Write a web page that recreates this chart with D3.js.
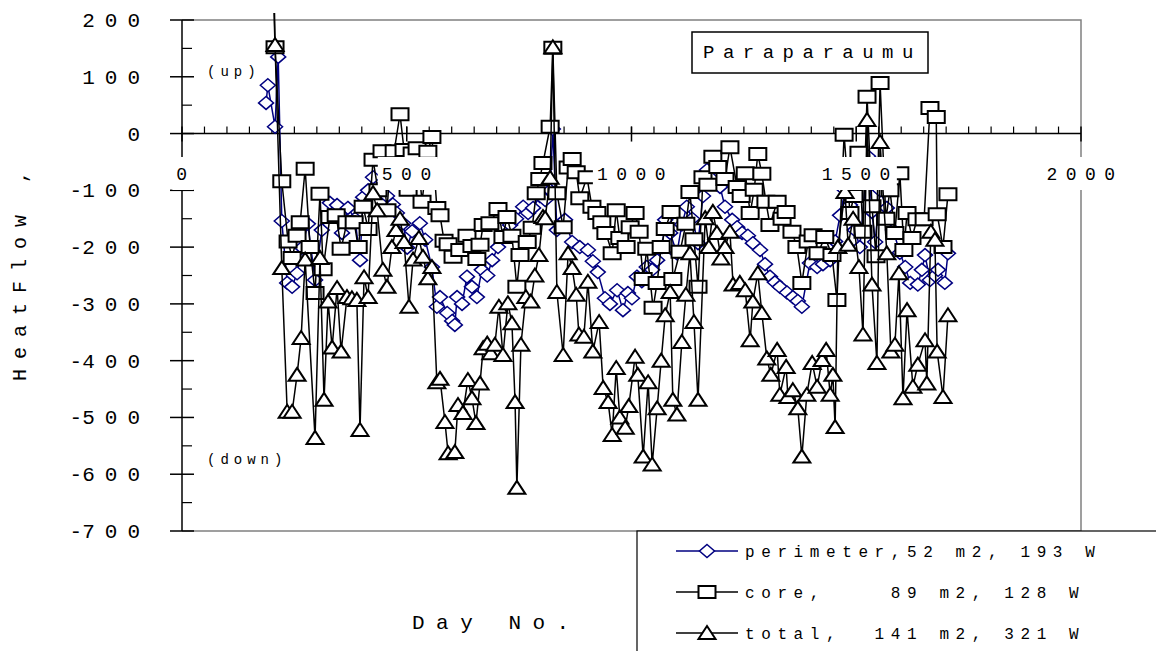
<!DOCTYPE html>
<html>
<head>
<meta charset="utf-8">
<script src="https://cdn.jsdelivr.net/npm/d3@7"></script>
<style>
body { margin: 0; background: #fff; }
text { font-family: "Liberation Mono", "Courier New", monospace; fill: #000; }
</style>
</head>
<body>
<svg id="chart" width="1156" height="651"></svg>
<script>
'use strict';

// day numbers and heat flow
var perimDay = [187, 191, 207, 214, 222, 234, 245, 256, 267, 280, 296, 311, 329, 345, 356, 369, 385, 396, 403, 414,
   425, 440, 456, 469, 478, 492, 501, 512, 529, 541, 556, 567, 574, 590, 601, 607, 612, 623, 634, 645,
   656, 667, 679, 690, 703, 716, 730, 743, 759, 770, 781, 796, 808, 819, 825, 834, 852, 868, 885, 903,
   914, 925, 941, 952, 968, 981, 992, 1001, 1012, 1023, 1034, 1046, 1057, 1068, 1075, 1086, 1101, 1112, 1123, 1135,
   1148, 1159, 1168, 1179, 1197, 1208, 1224, 1235, 1246, 1259, 1270, 1286, 1297, 1308, 1319, 1330, 1346, 1359, 1370, 1379,
   1397, 1413, 1426, 1442, 1453, 1464, 1475, 1486, 1497, 1508, 1526, 1535, 1542, 1553, 1568, 1582, 1597, 1609, 1620, 1637,
   1646, 1653, 1664, 1675, 1682, 1697, 1704];
var perimW = [54, 85, 12, 135, -154, -263, -270, -246, -201, -159, -258, -170, -122, -126, -175, -131, -150, -223, -112, -100,
   -77, -95, -110, -125, -140, -158, -201, -172, -158, -187, -235, -305, -288, -316, -330, -337, -288, -300, -252, -270,
   -288, -240, -250, -223, -200, -180, -161, -150, -129, -140, -131, -110, -117, -100, 8, -170, -152, -191, -200, -205,
   -225, -244, -290, -300, -276, -311, -281, -290, -252, -260, -235, -240, -223, -200, -152, -175, -211, -160, -129, -150,
   -193, -110, -64, -80, -94, -129, -152, -165, -175, -180, -193, -205, -230, -252, -262, -270, -280, -288, -295, -305,
   -228, -235, -230, -223, -190, -144, -100, -126, -170, -200, -40, -138, -191, -100, -131, -170, -210, -235, -263, -266,
   -240, -214, -258, -250, -240, -263, -211];

var coreDay = [191, 207, 222, 236, 245, 256, 263, 274, 285, 296, 307, 314, 329, 343, 354, 367, 383, 392, 403, 414,
   425, 436, 445, 456, 463, 472, 485, 494, 503, 512, 523, 534, 547, 556, 567, 574, 583, 592, 603, 618,
   634, 645, 656, 663, 670, 685, 703, 714, 723, 734, 745, 752, 768, 779, 788, 796, 803, 819, 825, 834,
   848, 859, 868, 877, 885, 901, 912, 923, 934, 943, 957, 966, 974, 988, 997, 1008, 1017, 1026, 1034, 1048,
   1057, 1066, 1075, 1088, 1092, 1108, 1121, 1130, 1139, 1148, 1159, 1170, 1181, 1192, 1208, 1219, 1235, 1244, 1253, 1264,
   1273, 1281, 1290, 1299, 1308, 1324, 1335, 1344, 1357, 1368, 1379, 1393, 1404, 1415, 1430, 1446, 1457, 1473, 1486, 1495,
   1506, 1515, 1524, 1535, 1544, 1553, 1566, 1575, 1586, 1597, 1606, 1613, 1624, 1635, 1651, 1664, 1678, 1680, 1693, 1704];
var coreW = [600, 152, -84, -190, -219, -180, -156, -62, -200, -281, -106, -239, -147, -144, -203, -156, -156, -200, -129, -168,
   -46, -100, -31, -135, -60, -31, 34, -29, -99, -35, -26, -120, -32, -6, -131, -144, -189, -195, -217, -205,
   -180, -198, -221, -196, -161, -158, -133, -182, -147, -180, -270, -214, -191, -166, -105, -80, -52, 12, 151, -105,
   -165, -60, -45, -68, -114, -77, -129, -140, -156, -175, -211, -135, -184, -200, -165, -140, -173, -256, -203, -307,
   -263, -200, -168, -138, -256, -208, -159, -103, -186, -270, -77, -90, -41, -59, -80, -24, -94, -110, -70, -140,
   -99, -36, -71, -120, -161, -120, -150, -138, -173, -200, -263, -190, -179, -211, -182, -214, -293, -2, -140, -110,
   -34, -173, 65, -128, -216, 89, -150, -100, -175, -70, -205, -140, -184, -151, -151, 45, 29, -142, -200, -107];

var totalDay = [191, 207, 222, 234, 245, 256, 265, 274, 296, 307, 316, 325, 334, 345, 354, 367, 378, 389, 396, 405,
   414, 425, 434, 447, 456, 467, 476, 485, 494, 505, 514, 527, 536, 547, 556, 567, 574, 585, 592, 607,
   614, 625, 636, 645, 654, 663, 670, 679, 687, 696, 705, 714, 725, 734, 741, 745, 754, 765, 776, 785,
   794, 803, 808, 819, 825, 834, 848, 859, 868, 877, 883, 894, 903, 914, 928, 937, 948, 957, 966, 974,
   986, 994, 1008, 1014, 1026, 1037, 1046, 1057, 1066, 1075, 1086, 1092, 1101, 1112, 1121, 1130, 1139, 1148, 1164, 1172,
   1181, 1190, 1199, 1208, 1219, 1226, 1241, 1253, 1264, 1270, 1281, 1290, 1301, 1310, 1324, 1330, 1344, 1348, 1359, 1370,
   1379, 1390, 1402, 1413, 1424, 1433, 1442, 1448, 1453, 1459, 1475, 1482, 1493, 1506, 1515, 1524, 1535, 1546, 1553, 1568,
   1577, 1586, 1595, 1604, 1613, 1626, 1637, 1653, 1657, 1666, 1675, 1680, 1693, 1704];
var totalW = [900, 156, -237, -490, -490, -425, -360, -222, -536, -219, -469, -296, -377, -272, -384, -288, -290, -293, -522, -253,
   -288, -105, -135, -240, -270, -200, -170, -150, -191, -305, -222, -184, -217, -255, -235, -438, -432, -508, -563, -561,
   -478, -492, -434, -466, -510, -440, -378, -370, -387, -372, -305, -390, -299, -334, -473, -624, -372, -288, -296, -250,
   -214, -147, -149, -78, 152, -279, -390, -211, -237, -284, -354, -358, -261, -384, -332, -448, -473, -531, -413, -500,
   -518, -480, -393, -425, -569, -438, -583, -484, -400, -320, -279, -469, -495, -367, -284, -211, -332, -469, -149, -200,
   -138, -175, -220, -200, -173, -266, -263, -276, -364, -296, -246, -316, -396, -425, -381, -460, -411, -464, -452, -484,
   -569, -460, -404, -446, -399, -381, -460, -425, -517, -200, -103, -196, -150, -235, -354, 24, -266, -404, -15, -211,
   -384, -372, -246, -466, -311, -446, -407, -364, -440, -173, -187, -384, -464, -320];

var yTicks = [200, 100, 0, -100, -200, -300, -400, -500, -600, -700];
var xTicks = [0, 500, 1000, 1500, 2000];
var legendNames = ['perimeter,52 m2, 193 W', 'core,    89 m2, 128 W', 'total,  141 m2, 321 W'];

var diamond = 'M0,-6.5L7.5,0L0,6.5L-7.5,0Z';
var square = 'M-8.5,-6L8.5,-6L8.5,6L-8.5,6Z';
var triangle = 'M0,-7L8.5,6L-8.5,6Z';

function draw() {
   var svg = d3.select('#chart');
   var x = d3.scaleLinear().domain([0, 2000]).range([182, 1081]);
   var y = d3.scaleLinear().domain([-700, 200]).range([531, 20]);

   svg.append('defs').append('clipPath').attr('id', 'clip')
      .append('rect').attr('x', 182).attr('y', 13).attr('width', 900).attr('height', 518);

   // frame (grey) and axes (black)
   svg.append('path').attr('d', 'M182,20H1081V531H182').attr('fill', 'none').attr('stroke', '#808080').attr('stroke-width', 1.5);
   svg.append('line').attr('x1', 182).attr('x2', 182).attr('y1', 20).attr('y2', 531).attr('stroke', '#000').attr('stroke-width', 1.5);
   svg.append('line').attr('x1', 182).attr('x2', 1081).attr('y1', y(0)).attr('y2', y(0)).attr('stroke', '#000').attr('stroke-width', 1.5);

   svg.selectAll('line.ymin').data(d3.range(-650, 200, 100)).enter().append('line')
      .attr('x1', 182).attr('x2', 192).attr('y1', function (d) { return y(d); }).attr('y2', function (d) { return y(d); })
      .attr('stroke', '#000').attr('stroke-width', 1.2);
   svg.selectAll('line.ymaj').data(yTicks).enter().append('line')
      .attr('x1', 170).attr('x2', 194).attr('y1', function (d) { return y(d); }).attr('y2', function (d) { return y(d); })
      .attr('stroke', '#000').attr('stroke-width', 1.5);
   svg.selectAll('line.xmin').data(d3.range(50, 2000, 50)).enter().append('line')
      .attr('x1', function (d) { return x(d); }).attr('x2', function (d) { return x(d); })
      .attr('y1', y(0) - 7).attr('y2', y(0)).attr('stroke', '#000').attr('stroke-width', 1.2);
   svg.selectAll('line.xmaj').data(xTicks).enter().append('line')
      .attr('x1', function (d) { return x(d); }).attr('x2', function (d) { return x(d); })
      .attr('y1', y(0) - 7).attr('y2', y(0) + 8).attr('stroke', '#000').attr('stroke-width', 1.5);

   function series(days, vals, color, shape) {
      var pts = days.map(function (d, i) { return [d, vals[i]]; });
      var g = svg.append('g').attr('clip-path', 'url(#clip)');
      g.append('path').datum(pts)
         .attr('d', d3.line().x(function (d) { return x(d[0]); }).y(function (d) { return y(d[1]); }))
         .attr('fill', 'none').attr('stroke', color).attr('stroke-width', 1.5).attr('stroke-linejoin', 'round');
      g.selectAll('path.mk').data(pts).enter().append('path')
         .attr('d', shape)
         .attr('transform', function (d) { return 'translate(' + x(d[0]) + ',' + y(d[1]) + ')'; })
         .attr('fill', '#fff').attr('stroke', color).attr('stroke-width', shape === diamond ? 1.5 : 2);
   }
   series(perimDay, perimW, '#000080', diamond);
   series(coreDay, coreW, '#000', square);
   series(totalDay, totalW, '#000', triangle);

   // x tick labels sit on white boxes over the data
   var xl = svg.selectAll('g.xl').data(xTicks).enter().append('g');
   xl.append('rect').attr('y', 157).attr('height', 33).attr('fill', '#fff');
   xl.append('text').text(function (d) { return d; })
      .attr('x', function (d) { return x(d) + 4; }).attr('y', 180)
      .attr('text-anchor', 'middle').style('font-size', '18px').style('letter-spacing', '8.5px');
   xl.each(function () {
      var b = d3.select(this).select('text').node().getBBox();
      d3.select(this).select('rect').attr('x', b.x - 4).attr('width', b.width + 2);
   });

   var yl = svg.selectAll('text.yl').data(yTicks).enter().append('text')
      .attr('x', 150).attr('y', function (d) { return y(d) + 7; })
      .attr('text-anchor', 'end').style('font-size', '21px');
   yl.filter(function (d) { return d < 0; }).append('tspan').text('-');
   yl.append('tspan').text(function (d) { return Math.abs(d); }).style('letter-spacing', '10px');

   svg.append('text').text('HeatFlow ,').attr('transform', 'translate(26,271)rotate(-90)')
      .attr('text-anchor', 'middle').style('font-size', '20px').style('letter-spacing', '10px');
   svg.append('text').text('Day No.').attr('x', 412).attr('y', 629)
      .style('font-size', '21px').style('letter-spacing', '11.5px');
   svg.append('text').text('(up)').attr('x', 207).attr('y', 76).style('font-size', '14px').style('letter-spacing', '5px');
   svg.append('text').text('(down)').attr('x', 207).attr('y', 464).style('font-size', '14px').style('letter-spacing', '5px');

   svg.append('rect').attr('x', 692).attr('y', 32).attr('width', 236).attr('height', 41)
      .attr('fill', '#fff').attr('stroke', '#000').attr('stroke-width', 1.5);
   svg.append('text').text('Paraparaumu').attr('x', 703).attr('y', 58).style('font-size', '19px').style('letter-spacing', '8.5px');

   // legend
   svg.append('rect').attr('x', 637).attr('y', 531).attr('width', 540).attr('height', 140)
      .attr('fill', '#fff').attr('stroke', '#000').attr('stroke-width', 1.2);
   var shapes = [diamond, square, triangle];
   var cols = ['#000080', '#000', '#000'];
   var lg = svg.selectAll('g.lg').data(legendNames).enter().append('g')
      .attr('transform', function (d, i) { return 'translate(0,' + (551 + i * 41) + ')'; });
   lg.append('line').attr('x1', 676).attr('x2', 738).attr('stroke', function (d, i) { return cols[i]; }).attr('stroke-width', 1.5);
   lg.append('path').attr('d', function (d, i) { return shapes[i]; }).attr('transform', 'translate(707,0)')
      .attr('fill', '#fff').attr('stroke', function (d, i) { return cols[i]; }).attr('stroke-width', function (d, i) { return i ? 2 : 1.5; });
   lg.append('text').text(function (d) { return d; }).attr('x', 745).attr('y', 6)
      .style('font-size', '16px').style('letter-spacing', '6.6px').style('white-space', 'pre');
}

draw();
</script>
</body>
</html>
